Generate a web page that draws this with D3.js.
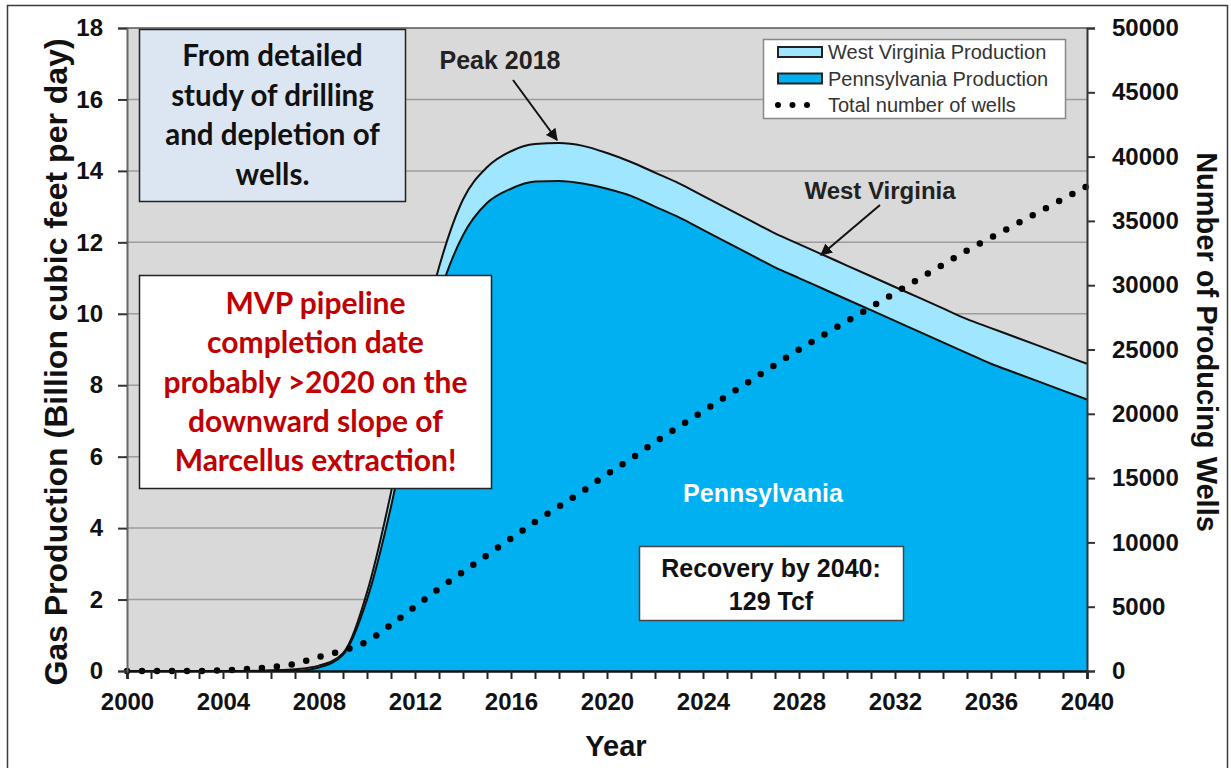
<!DOCTYPE html>
<html>
<head>
<meta charset="utf-8">
<script src="https://cdn.jsdelivr.net/npm/d3@7"></script>
<style>
  html, body { margin: 0; padding: 0; background: #fff; }
  svg { display: block; font-family: "Liberation Sans", Arial, sans-serif; }
</style>
</head>
<body>
<div class="canvas"></div>
<script>
// ---- data ----
const years = [2000, 2001, 2002, 2003, 2004, 2005, 2006, 2007, 2008, 2009,
               2010, 2011, 2012, 2013, 2014, 2015, 2016, 2017, 2018, 2019,
               2020, 2021, 2022, 2023, 2024, 2025, 2026, 2027, 2028, 2029,
               2030, 2031, 2032, 2033, 2034, 2035, 2036, 2037, 2038, 2039, 2040]

// Pennsylvania production (Bcf/d)
const paProduction = [0, 0, 0, 0, 0, 0, 0, 0, 0.1, 0.45,
                      2.0, 4.6, 7.9, 10.5, 12.2, 13.1, 13.5, 13.7, 13.72, 13.65,
                      13.5, 13.3, 13.0, 12.7, 12.35, 12.0, 11.65, 11.3, 11.0, 10.7,
                      10.4, 10.1, 9.8, 9.5, 9.2, 8.9, 8.6, 8.35, 8.1, 7.85, 7.6]

// West Virginia production, stacked on top (Bcf/d)
const wvProduction = [0, 0, 0, 0, 0, 0, 0.02, 0.05, 0.05, 0.05,
                      0.2, 0.4, 0.6, 0.8, 1.0, 1.0, 1.05, 1.05, 1.06, 1.05,
                      1.0, 0.95, 0.95, 0.95, 0.95, 0.95, 0.95, 0.95, 0.95, 0.95,
                      0.95, 0.95, 0.95, 0.95, 0.95, 0.95, 1.0, 1.0, 1.0, 1.0, 1.0]

// total number of producing wells (right axis)
const totalWells = [0, 0, 0, 0, 50, 150, 300, 550, 1100, 1600,
                    2300, 3600, 5000, 6400, 7700, 9000, 10300, 11600, 12800, 14000,
                    15300, 16500, 17800, 19000, 20200, 21400, 22600, 23800, 25000, 26100,
                    27200, 28300, 29400, 30500, 31600, 32700, 33700, 34700, 35700, 36700, 37700]

const leftTicks = [0, 2, 4, 6, 8, 10, 12, 14, 16, 18]
const rightTicks = [0, 5000, 10000, 15000, 20000, 25000, 30000, 35000, 40000, 45000, 50000]
const yearLabels = [2000, 2004, 2008, 2012, 2016, 2020, 2024, 2028, 2032, 2036, 2040]

const legendItems = [
  {label: 'West Virginia Production', type: 'box', color: '#a0e6ff'},
  {label: 'Pennsylvania Production', type: 'box', color: '#00b0f0'},
  {label: 'Total number of wells', type: 'dots'}
]

// ---- layout ----
const W = 1231, H = 768
const plot = {left: 127, right: 1087, top: 28, bottom: 671}

const svg = d3.select('.canvas').append('svg')
  .attr('width', W)
  .attr('height', H)

// outer frame
svg.append('rect')
  .attr('x', 7.5).attr('y', 5.5)
  .attr('width', 1220).attr('height', 775)
  .attr('fill', '#fff').attr('stroke', '#3a3a3a').attr('stroke-width', 1.5)

const x = d3.scaleLinear().domain([2000, 2040]).range([plot.left, plot.right])
const yL = d3.scaleLinear().domain([0, 18]).range([plot.bottom, plot.top])
const yR = d3.scaleLinear().domain([0, 50000]).range([plot.bottom, plot.top])

// plot background + gridlines
svg.append('rect')
  .attr('x', plot.left).attr('y', plot.top)
  .attr('width', plot.right - plot.left).attr('height', plot.bottom - plot.top)
  .attr('fill', '#d9d9d9')

svg.append('g').selectAll('line')
  .data(leftTicks.filter(d => d > 0 && d < 18))
  .join('line')
  .attr('x1', plot.left).attr('x2', plot.right)
  .attr('y1', d => yL(d)).attr('y2', d => yL(d))
  .attr('stroke', '#9c9c9c').attr('stroke-width', 1.5)

// stacked areas
const table = years.map((yr, i) => ({year: yr, pa: paProduction[i], wv: wvProduction[i]}))
const stacked = d3.stack().keys(['pa', 'wv'])(table)
const areaColors = {pa: '#00b0f0', wv: '#a0e6ff'}

const area = d3.area()
  .x(d => x(d.data.year))
  .y0(d => yL(d[0]))
  .y1(d => yL(d[1]))
  .curve(d3.curveMonotoneX)

const topLine = d3.line()
  .x(d => x(d.data.year))
  .y(d => yL(d[1]))
  .curve(d3.curveMonotoneX)

const graph = svg.append('g')

graph.selectAll('.area')
  .data(stacked)
  .join('path')
  .attr('class', 'area')
  .attr('fill', d => areaColors[d.key])
  .attr('d', area)

graph.selectAll('.outline')
  .data(stacked)
  .join('path')
  .attr('class', 'outline')
  .attr('fill', 'none')
  .attr('stroke', '#111')
  .attr('stroke-width', 2)
  .attr('d', topLine)

// plot border (top)
svg.append('line')
  .attr('x1', plot.left).attr('x2', plot.right)
  .attr('y1', plot.top).attr('y2', plot.top)
  .attr('stroke', '#555').attr('stroke-width', 1.5)

// wells dotted line
const wellsLine = d3.line()
  .x((d, i) => x(years[i]))
  .y(d => yR(d))
  .curve(d3.curveMonotoneX)

svg.append('path')
  .datum(totalWells)
  .attr('fill', 'none')
  .attr('stroke', '#000')
  .attr('stroke-width', 6.5)
  .attr('stroke-linecap', 'round')
  .attr('stroke-dasharray', '0 15')
  .attr('d', wellsLine)

// ---- axes ----
const tickFont = sel => sel.selectAll('text')
  .attr('font-size', 24).attr('font-weight', 'bold').attr('fill', '#111')

const xAxis = svg.append('g')
  .attr('transform', `translate(0,${plot.bottom})`)
  .call(d3.axisBottom(x).tickValues(years).tickSize(8).tickPadding(14)
    .tickFormat(d => yearLabels.includes(d) ? d : ''))
xAxis.select('.domain').attr('stroke', '#111').attr('stroke-width', 2.5)
xAxis.selectAll('.tick line').attr('stroke', '#222').attr('stroke-width', 2)
xAxis.call(tickFont)

const leftAxis = svg.append('g')
  .attr('transform', `translate(${plot.left},0)`)
  .call(d3.axisLeft(yL).tickValues(leftTicks).tickSize(9).tickPadding(15))
leftAxis.select('.domain').attr('stroke', '#666').attr('stroke-width', 2)
leftAxis.selectAll('.tick line').attr('stroke', '#333').attr('stroke-width', 2)
leftAxis.call(tickFont)

const rightAxis = svg.append('g')
  .attr('transform', `translate(${plot.right},0)`)
  .call(d3.axisRight(yR).tickValues(rightTicks).tickSize(8).tickPadding(17).tickFormat(d3.format('d')))
rightAxis.select('.domain').attr('stroke', '#333').attr('stroke-width', 2)
rightAxis.selectAll('.tick line').attr('stroke', '#333').attr('stroke-width', 2)
rightAxis.call(tickFont)

// axis titles
svg.append('text')
  .attr('transform', `translate(67,362) rotate(-90)`)
  .attr('text-anchor', 'middle')
  .attr('font-size', 32).attr('font-weight', 'bold').attr('fill', '#111')
  .text('Gas Production (Billion cubic feet per day)')

svg.append('text')
  .attr('transform', `translate(1197,342) rotate(90)`)
  .attr('text-anchor', 'middle')
  .attr('font-size', 29).attr('font-weight', 'bold').attr('fill', '#111')
  .text('Number of Producing Wells')

svg.append('text')
  .attr('x', (plot.left + plot.right) / 2 + 9).attr('y', 756)
  .attr('text-anchor', 'middle')
  .attr('font-size', 29).attr('font-weight', 'bold').attr('fill', '#111')
  .text('Year')

// ---- annotations ----
svg.append('defs').append('marker')
  .attr('id', 'arrow')
  .attr('viewBox', '0 0 10 10')
  .attr('refX', 9).attr('refY', 5)
  .attr('markerWidth', 6).attr('markerHeight', 6)
  .attr('orient', 'auto')
  .append('path').attr('d', 'M0,0 L10,5 L0,10 z').attr('fill', '#111')

// Pennsylvania label
svg.append('text')
  .attr('x', 763).attr('y', 502)
  .attr('text-anchor', 'middle')
  .attr('font-size', 25).attr('font-weight', 'bold').attr('fill', '#fff')
  .text('Pennsylvania')

// Peak 2018
svg.append('text')
  .attr('x', 500).attr('y', 69)
  .attr('text-anchor', 'middle')
  .attr('font-size', 25).attr('font-weight', 'bold').attr('fill', '#222')
  .text('Peak 2018')
svg.append('line')
  .attr('x1', 513).attr('y1', 80).attr('x2', 557).attr('y2', 140)
  .attr('stroke', '#111').attr('stroke-width', 2)
  .attr('marker-end', 'url(#arrow)')

// West Virginia
svg.append('text')
  .attr('x', 880).attr('y', 199)
  .attr('text-anchor', 'middle')
  .attr('font-size', 24).attr('font-weight', 'bold').attr('fill', '#222')
  .text('West Virginia')
svg.append('line')
  .attr('x1', 880).attr('y1', 205).attr('x2', 821).attr('y2', 255)
  .attr('stroke', '#111').attr('stroke-width', 2)
  .attr('marker-end', 'url(#arrow)')

// Recovery box
const rec = svg.append('g')
rec.append('rect')
  .attr('x', 639.5).attr('y', 546.5).attr('width', 264).attr('height', 74)
  .attr('fill', '#fff').attr('stroke', '#444').attr('stroke-width', 1.5)
rec.selectAll('text')
  .data(['Recovery by 2040:', '129 Tcf'])
  .join('text')
  .attr('x', 771).attr('y', (d, i) => 577 + i * 33)
  .attr('text-anchor', 'middle')
  .attr('font-size', 25).attr('font-weight', 'bold').attr('fill', '#111')
  .text(d => d)

// MVP box
const mvp = svg.append('g')
mvp.append('rect')
  .attr('x', 139.5).attr('y', 275.5).attr('width', 352).attr('height', 213)
  .attr('fill', '#fff').attr('stroke', '#222').attr('stroke-width', 1.5)
mvp.selectAll('text')
  .data(['MVP pipeline', 'completion date', 'probably >2020 on the', 'downward slope of', 'Marcellus extraction!'])
  .join('text')
  .attr('x', 315.5).attr('y', (d, i) => 314 + i * 39.3)
  .attr('text-anchor', 'middle')
  .attr('font-family', 'Lato, "Open Sans", sans-serif')
  .attr('font-size', 30).attr('font-weight', 'bold').attr('fill', '#c00000')
  .text(d => d)

// study box
const study = svg.append('g')
study.append('rect')
  .attr('x', 139.5).attr('y', 29.5).attr('width', 266).attr('height', 172)
  .attr('fill', '#dce6f2').attr('stroke', '#222').attr('stroke-width', 1.5)
study.selectAll('text')
  .data(['From detailed', 'study of drilling', 'and depletion of', 'wells.'])
  .join('text')
  .attr('x', 272.5).attr('y', (d, i) => 66 + i * 39.5)
  .attr('text-anchor', 'middle')
  .attr('font-family', 'Lato, "Open Sans", sans-serif')
  .attr('font-size', 29.5).attr('font-weight', 'bold').attr('fill', '#111')
  .text(d => d)

// ---- legend ----
const legend = svg.append('g')
legend.append('rect')
  .attr('x', 763.5).attr('y', 39.5).attr('width', 302).attr('height', 79)
  .attr('fill', '#fff').attr('stroke', '#888').attr('stroke-width', 1.5)

const rows = legend.selectAll('.row')
  .data(legendItems)
  .join('g')
  .attr('class', 'row')
  .attr('transform', (d, i) => `translate(778,${52 + i * 26.5})`)

rows.filter(d => d.type === 'box').append('rect')
  .attr('x', 0).attr('y', -5).attr('width', 44).attr('height', 10)
  .attr('fill', d => d.color).attr('stroke', '#222').attr('stroke-width', 2)

rows.filter(d => d.type === 'dots').selectAll('circle')
  .data([0, 14.5, 29])
  .join('circle')
  .attr('cx', d => d).attr('cy', 0).attr('r', 3)
  .attr('fill', '#000')

rows.append('text')
  .attr('x', 50).attr('y', 7)
  .attr('font-size', 20).attr('fill', '#333')
  .text(d => d.label)
</script>
</body>
</html>
